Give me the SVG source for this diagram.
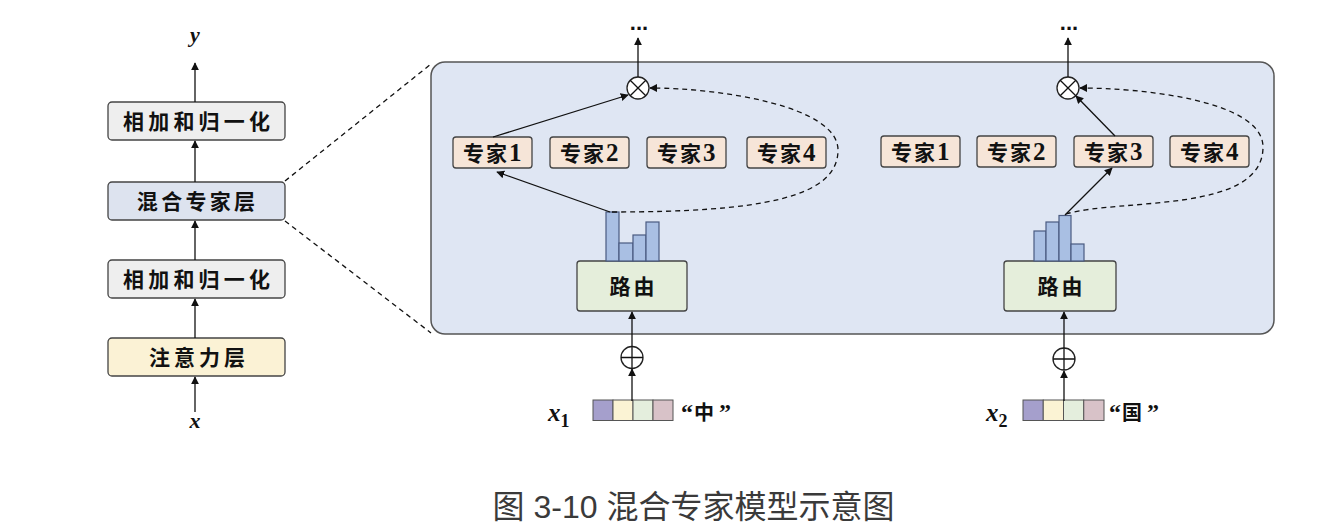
<svg xmlns="http://www.w3.org/2000/svg" width="1326" height="532" viewBox="0 0 1326 532">
<defs>
<marker id="ah" viewBox="0 0 10 10" refX="9" refY="5" markerWidth="8" markerHeight="8" markerUnits="userSpaceOnUse" orient="auto">
<path d="M0,0 L10,5 L0,10 z" fill="#111"/>
</marker>
<style>
.box{stroke:#444;stroke-width:1.3}
.lbl{font-family:"Liberation Serif","Noto Sans CJK SC",serif;font-weight:bold;font-size:21px;fill:#111;text-anchor:middle}
.el{font-family:"Liberation Serif","Noto Sans CJK SC",serif;font-weight:bold;font-size:21px;fill:#111}
.num{font-size:25px}
.cjk{font-family:"Liberation Serif","Noto Sans CJK SC",serif;font-weight:bold;font-size:20px;fill:#111}
.q{font-size:24px}
.ln{stroke:#111;stroke-width:1.3;fill:none}
.dash{stroke:#111;stroke-width:1.3;fill:none;stroke-dasharray:5,4}
.bar{fill:#a9bfe3;stroke:#4a5a80;stroke-width:1.2}
.op{fill:#fff;stroke:#222;stroke-width:1.3}
.var{font-family:"Liberation Serif",serif;font-weight:bold;font-style:italic;fill:#111}
.exp{fill:#f6e5d8}
.dots{font-family:"Liberation Sans",sans-serif;font-weight:bold;font-size:22px;fill:#111;text-anchor:middle}
</style>
</defs>
<rect width="1326" height="532" fill="#fff"/>

<!-- left stack -->
<g id="norm2"><rect class="box" x="108" y="102" width="177" height="38" rx="4" fill="#eeeeee"/><text class="lbl" x="198.6" y="128.5" letter-spacing="4.2">相加和归一化</text></g>
<g id="moe"><rect class="box" x="108" y="182" width="177" height="38" rx="4" fill="#dde3ef"/><text class="lbl" x="197.6" y="208.5" letter-spacing="3.3">混合专家层</text></g>
<g id="norm1"><rect class="box" x="108" y="260" width="177" height="38" rx="4" fill="#eeeeee"/><text class="lbl" x="198.6" y="286.5" letter-spacing="4.2">相加和归一化</text></g>
<g id="attn"><rect class="box" x="108" y="338" width="177" height="38" rx="4" fill="#fbf2d5"/><text class="lbl" x="199" y="364.5" letter-spacing="4">注意力层</text></g>
<g id="ylabel"><text class="var" x="195" y="42" font-size="22" text-anchor="middle">y</text></g>
<g id="xlabel"><text class="var" x="195" y="428" font-size="22" text-anchor="middle">x</text></g>

<!-- panel -->
<g id="panel"><rect x="431" y="62" width="843" height="272" rx="14" fill="#dfe6f3" stroke="#555" stroke-width="1.5"/></g>

<!-- left token -->
<g id="L-e1"><rect class="box exp" x="453" y="137" width="79" height="31" rx="3"/><text class="el" x="463" y="161" letter-spacing="2">专家<tspan class="num">1</tspan></text></g>
<g id="L-e2"><rect class="box exp" x="550" y="137" width="79" height="31" rx="3"/><text class="el" x="560" y="161" letter-spacing="2">专家<tspan class="num">2</tspan></text></g>
<g id="L-e3"><rect class="box exp" x="647" y="137" width="79" height="31" rx="3"/><text class="el" x="657" y="161" letter-spacing="2">专家<tspan class="num">3</tspan></text></g>
<g id="L-e4"><rect class="box exp" x="747" y="137" width="79" height="31" rx="3"/><text class="el" x="757" y="161" letter-spacing="2">专家<tspan class="num">4</tspan></text></g>
<g id="L-router"><rect class="box" x="577" y="261" width="110" height="50" rx="3" fill="#e5eedb"/><text class="lbl" x="633.5" y="294" letter-spacing="3">路由</text></g>
<g id="L-bars">
<rect class="bar" x="606" y="212" width="13" height="49"/>
<rect class="bar" x="619" y="243" width="14" height="18"/>
<rect class="bar" x="633" y="235" width="13" height="26"/>
<rect class="bar" x="646" y="222" width="13" height="39"/>
</g>
<g id="L-mul"><circle class="op" cx="638" cy="88" r="11"/><path class="ln" d="M630.2,80.2 L645.8,95.8 M645.8,80.2 L630.2,95.8"/></g>
<g id="L-add"><circle class="op" cx="632" cy="357.5" r="11"/><path class="ln" d="M621,357.5 H643 M632,346.5 V368.5"/></g>
<g id="L-emb">
<rect x="593" y="400" width="20" height="20.5" fill="#a59fcc" stroke="#555" stroke-width="1"/>
<rect x="613" y="400" width="20" height="20.5" fill="#fbf3d4" stroke="#555" stroke-width="1"/>
<rect x="633" y="400" width="20" height="20.5" fill="#e4eedd" stroke="#555" stroke-width="1"/>
<rect x="653" y="400" width="20" height="20.5" fill="#d8c2c8" stroke="#555" stroke-width="1"/>
</g>
<g id="L-x1"><text class="var" x="548" y="421" font-size="25">x<tspan font-style="normal" font-size="18" dy="6">1</tspan></text></g>
<g id="L-tok"><text class="cjk" y="420"><tspan class="q" x="681">“</tspan><tspan x="694">中</tspan><tspan class="q" x="719">”</tspan></text></g>
<g id="L-dots"><text class="dots" x="639" y="30">...</text></g>

<!-- right token -->
<g id="R-e1"><rect class="box exp" x="881" y="136" width="79" height="31" rx="3"/><text class="el" x="891" y="160" letter-spacing="2">专家<tspan class="num">1</tspan></text></g>
<g id="R-e2"><rect class="box exp" x="977" y="136" width="79" height="31" rx="3"/><text class="el" x="987" y="160" letter-spacing="2">专家<tspan class="num">2</tspan></text></g>
<g id="R-e3"><rect class="box exp" x="1074" y="136" width="79" height="31" rx="3"/><text class="el" x="1084" y="160" letter-spacing="2">专家<tspan class="num">3</tspan></text></g>
<g id="R-e4"><rect class="box exp" x="1170" y="136" width="79" height="31" rx="3"/><text class="el" x="1180" y="160" letter-spacing="2">专家<tspan class="num">4</tspan></text></g>
<g id="R-router"><rect class="box" x="1004" y="261" width="112" height="50" rx="3" fill="#e5eedb"/><text class="lbl" x="1061.5" y="294" letter-spacing="3">路由</text></g>
<g id="R-bars">
<rect class="bar" x="1034" y="231" width="12" height="30"/>
<rect class="bar" x="1046" y="222" width="13" height="39"/>
<rect class="bar" x="1059" y="215.5" width="12" height="45.5"/>
<rect class="bar" x="1071" y="244" width="13" height="17"/>
</g>
<g id="R-mul"><circle class="op" cx="1068" cy="88" r="11"/><path class="ln" d="M1060.2,80.2 L1075.8,95.8 M1075.8,80.2 L1060.2,95.8"/></g>
<g id="R-add"><circle class="op" cx="1064" cy="359" r="11"/><path class="ln" d="M1053,359 H1075 M1064,348 V370"/></g>
<g id="R-emb">
<rect x="1023" y="400" width="20.25" height="20.5" fill="#a59fcc" stroke="#555" stroke-width="1"/>
<rect x="1043.25" y="400" width="20.25" height="20.5" fill="#fbf3d4" stroke="#555" stroke-width="1"/>
<rect x="1063.5" y="400" width="20.25" height="20.5" fill="#e4eedd" stroke="#555" stroke-width="1"/>
<rect x="1083.75" y="400" width="20.25" height="20.5" fill="#d8c2c8" stroke="#555" stroke-width="1"/>
</g>
<g id="R-x2"><text class="var" x="986" y="421" font-size="25">x<tspan font-style="normal" font-size="18" dy="6">2</tspan></text></g>
<g id="R-tok"><text class="cjk" y="420"><tspan class="q" x="1109">“</tspan><tspan x="1122">国</tspan><tspan class="q" x="1147">”</tspan></text></g>
<g id="R-dots"><text class="dots" x="1069" y="30">...</text></g>

<!-- connectors -->
<g id="connectors">
<line class="ln" x1="195" y1="102" x2="195" y2="63" marker-end="url(#ah)"/>
<line class="ln" x1="195" y1="182" x2="195" y2="141" marker-end="url(#ah)"/>
<line class="ln" x1="195" y1="260" x2="195" y2="221" marker-end="url(#ah)"/>
<line class="ln" x1="195" y1="338" x2="195" y2="299" marker-end="url(#ah)"/>
<line class="ln" x1="195" y1="412" x2="195" y2="377" marker-end="url(#ah)"/>
<line class="dash" x1="285" y1="181" x2="431" y2="64"/>
<line class="dash" x1="285" y1="221" x2="431" y2="333"/>

<line class="ln" x1="638" y1="77" x2="638" y2="38" marker-end="url(#ah)"/>
<line class="ln" x1="493" y1="137" x2="628" y2="95" marker-end="url(#ah)"/>
<line class="ln" x1="610" y1="212" x2="497" y2="172" marker-end="url(#ah)"/>
<path class="dash" d="M612,212 C760,212 838,198 838,150 C838,106 720,88 650,88" marker-end="url(#ah)"/>
<line class="ln" x1="632" y1="346.5" x2="632" y2="312" marker-end="url(#ah)"/>
<line class="ln" x1="632" y1="401" x2="632" y2="369" marker-end="url(#ah)"/>

<line class="ln" x1="1068" y1="77" x2="1068" y2="38" marker-end="url(#ah)"/>
<line class="ln" x1="1115" y1="136" x2="1076" y2="96" marker-end="url(#ah)"/>
<line class="ln" x1="1065" y1="215" x2="1112" y2="168" marker-end="url(#ah)"/>
<path class="dash" d="M1066,214 C1120,198 1263,214 1263,147 C1263,100 1140,88 1080,88" marker-end="url(#ah)"/>
<line class="ln" x1="1064" y1="348" x2="1064" y2="312" marker-end="url(#ah)"/>
<line class="ln" x1="1064" y1="401" x2="1064" y2="371" marker-end="url(#ah)"/>
</g>

<g id="caption"><text x="693.5" y="518" font-family="Liberation Sans,'Noto Sans CJK SC',sans-serif" font-size="32" fill="#3a3a3a" text-anchor="middle">图 3-10 混合专家模型示意图</text></g>
</svg>
